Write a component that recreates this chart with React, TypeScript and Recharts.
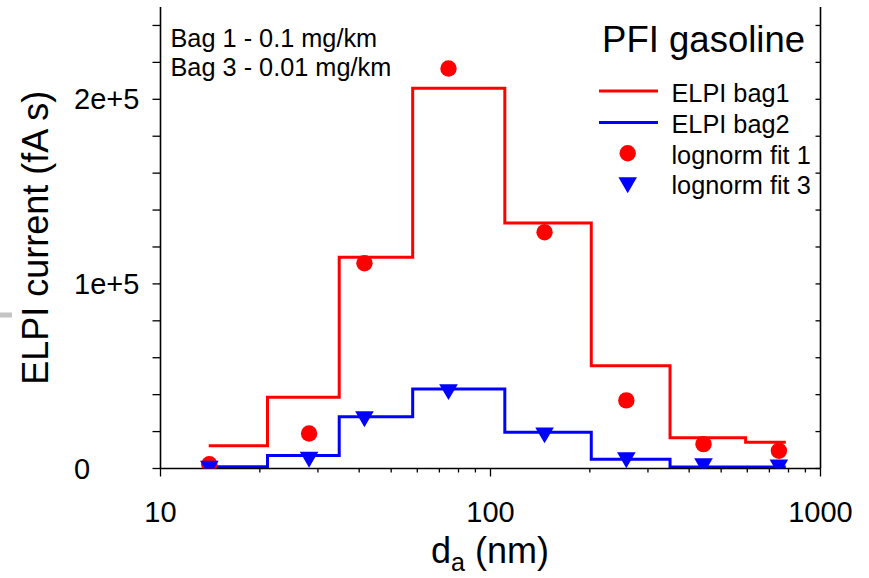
import { ComposedChart, Line, Scatter, XAxis, YAxis } from 'recharts';

// ELPI stage edges (nm) and measured current per stage (fA s)
const binEdges = [14.0, 21.1, 34.8, 58.1, 110.5, 202, 350, 593, 785];
const elpiBag1 = [12300, 38600, 114500, 206000, 133000, 55600, 16600, 14200];
const elpiBag2 = [1000, 7100, 28000, 43000, 19600, 5000, 800, 800];

// lognormal fit evaluated at stage midpoints
const fitDiameters = [14.06, 28.2, 41.5, 74.6, 145.8, 258, 442, 748];
const fit1 = [2300, 19000, 111200, 216700, 128000, 36900, 13200, 9600];
const fit3 = [0, 4900, 26800, 41500, 18100, 4600, 1350, 650];

const xTicks = [10, 20, 30, 40, 50, 60, 70, 80, 90, 100, 200, 300, 400, 500, 600, 700, 800, 900, 1000];
const xMajor = [10, 100, 1000];
const yTicks = [0, 20000, 40000, 60000, 80000, 100000, 120000, 140000, 160000, 180000, 200000, 220000, 240000];
const yLabels: Record<number, string> = { 0: '0', 100000: '1e+5', 200000: '2e+5' };

const FONT = '"Liberation Sans", Arial, sans-serif';

const toSteps = (vals: number[]) =>
  binEdges.map((x, i) => ({ x, y: vals[Math.min(i, vals.length - 1)] }));
const toPoints = (vals: number[]) => fitDiameters.map((x, i) => ({ x, y: vals[i] }));

const bag1Steps = toSteps(elpiBag1);
const bag2Steps = toSteps(elpiBag2);
const fit1Points = toPoints(fit1);
const fit3Points = toPoints(fit3);

const Dot = ({ cx, cy }: any) => <circle cx={cx} cy={cy} r={8.2} fill="#ff0000" />;
const DownTri = ({ cx, cy }: any) => (
  <path d={`M${cx - 9.3},${cy - 7.7}L${cx + 9.3},${cy - 7.7}L${cx},${cy + 8.2}Z`} fill="#0000ff" />
);

const BottomTick = ({ x, y, payload }: any) => {
  const major = xMajor.includes(payload.value);
  return (
    <g>
      <line x1={x} x2={x} y1={y} y2={y + (major ? 8 : 4)} stroke="#000" strokeWidth={1.3} />
      {major && (
        <text x={x} y={y + 53} textAnchor="middle" fontSize={29} fontFamily={FONT} fill="#000">
          {payload.value}
        </text>
      )}
    </g>
  );
};

const TopTick = ({ x, y, payload }: any) => {
  const major = xMajor.includes(payload.value);
  return <line x1={x} x2={x} y1={y} y2={y + (major ? 8 : 4.5)} stroke="#000" strokeWidth={1.3} />;
};

const LeftTick = ({ x, y, payload }: any) => {
  const label = yLabels[payload.value];
  return (
    <g>
      <line x1={x} x2={x - 8} y1={y} y2={y} stroke="#000" strokeWidth={1.3} />
      {label && (
        <text x={74} y={y + 10} textAnchor="start" fontSize={29} fontFamily={FONT} fill="#000">
          {label}
        </text>
      )}
    </g>
  );
};

const RightTick = ({ x, y }: any) => (
  <line x1={x} x2={x - 5} y1={y} y2={y} stroke="#000" strokeWidth={1.3} />
);

const axisLine = { stroke: '#000', strokeWidth: 1.6 };

export default function App() {
  return (
    <div style={{ position: 'absolute', left: 0, top: 0, width: 869, height: 578, background: '#fff' }}>
      <ComposedChart width={869} height={578} margin={{ top: 7, right: 0, bottom: 49.5, left: 0 }}>
        <XAxis
          xAxisId="bottom"
          dataKey="x"
          type="number"
          scale="log"
          domain={[10, 1000]}
          allowDataOverflow
          ticks={xTicks}
          interval={0}
          height={60}
          tickSize={0}
          tickMargin={0}
          tickLine={false}
          axisLine={axisLine}
          tick={<BottomTick />}
        />
        <XAxis
          xAxisId="top"
          orientation="top"
          dataKey="x"
          type="number"
          scale="log"
          domain={[10, 1000]}
          allowDataOverflow
          ticks={xTicks}
          interval={0}
          height={0}
          tickSize={0}
          tickMargin={0}
          tickLine={false}
          axisLine={axisLine}
          tick={<TopTick />}
        />
        <YAxis
          yAxisId="left"
          dataKey="y"
          type="number"
          domain={[0, 250000]}
          allowDataOverflow
          ticks={yTicks}
          interval={0}
          width={160.5}
          tickSize={0}
          tickMargin={0}
          tickLine={false}
          axisLine={axisLine}
          tick={<LeftTick />}
        />
        <YAxis
          yAxisId="right"
          orientation="right"
          type="number"
          domain={[0, 250000]}
          allowDataOverflow
          ticks={yTicks}
          interval={0}
          width={48.5}
          tickSize={0}
          tickMargin={0}
          tickLine={false}
          axisLine={axisLine}
          tick={<RightTick />}
        />
        <Line
          xAxisId="bottom"
          yAxisId="left"
          data={bag1Steps}
          dataKey="y"
          type="stepAfter"
          stroke="#ff0000"
          strokeWidth={3}
          dot={false}
          isAnimationActive={false}
        />
        <Line
          xAxisId="bottom"
          yAxisId="left"
          data={bag2Steps}
          dataKey="y"
          type="stepAfter"
          stroke="#0000ff"
          strokeWidth={3}
          dot={false}
          isAnimationActive={false}
        />
        <Scatter
          xAxisId="bottom"
          yAxisId="left"
          data={fit1Points}
          dataKey="y"
          shape={<Dot />}
          isAnimationActive={false}
        />
        <Scatter
          xAxisId="bottom"
          yAxisId="left"
          data={fit3Points}
          dataKey="y"
          shape={<DownTri />}
          isAnimationActive={false}
        />
      </ComposedChart>

      {/* titles, annotations and legend */}
      <svg
        width={869}
        height={578}
        style={{ position: 'absolute', left: 0, top: 0, pointerEvents: 'none' }}
        fontFamily={FONT}
        fill="#000"
      >
        <rect x={0} y={312.5} width={12} height={5} fill="#c4c4c4" />
        <text transform="translate(47.5,237.7) rotate(-90)" textAnchor="middle" fontSize={36}>
          ELPI current (fA s)
        </text>
        <text x={490} y={563} textAnchor="middle" fontSize={36}>
          d
          <tspan fontSize={25} dy={8}>a</tspan>
          <tspan dy={-8}> (nm)</tspan>
        </text>

        <text x={170.5} y={47} fontSize={25.3}>Bag 1 - 0.1 mg/km</text>
        <text x={170.5} y={76} fontSize={25.3}>Bag 3 - 0.01 mg/km</text>
        <text x={805} y={51.7} textAnchor="end" fontSize={36.5}>PFI gasoline</text>

        <line x1={599} x2={658} y1={91} y2={91} stroke="#ff0000" strokeWidth={3} />
        <text x={671.5} y={101.7} fontSize={25.3}>ELPI bag1</text>
        <line x1={599} x2={658} y1={122.5} y2={122.5} stroke="#0000ff" strokeWidth={3} />
        <text x={671.5} y={132.7} fontSize={25.3}>ELPI bag2</text>
        <Dot cx={627.7} cy={153.3} />
        <text x={671.5} y={163.5} fontSize={25.3}>lognorm fit 1</text>
        <DownTri cx={627.7} cy={185} />
        <text x={671.5} y={194} fontSize={25.3}>lognorm fit 3</text>
      </svg>
    </div>
  );
}
